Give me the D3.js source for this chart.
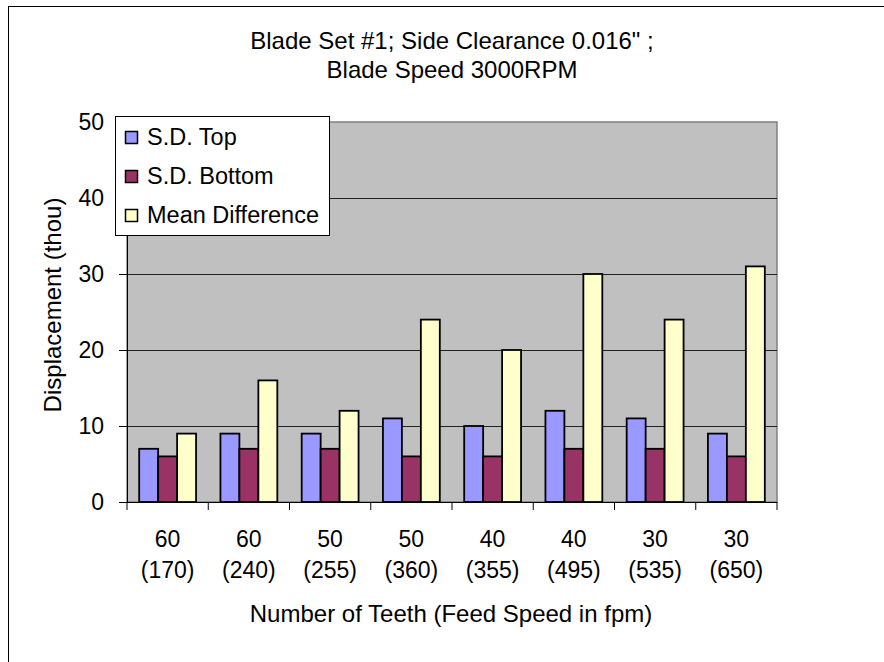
<!DOCTYPE html>
<html><head><meta charset="utf-8">
<script src="https://cdn.jsdelivr.net/npm/d3@7"></script>
<style>body{margin:0;background:#fff}svg{display:block;font-family:"Liberation Sans",Arial,sans-serif}</style>
</head><body>
<script>
const teeth = ["60","60","50","50","40","40","30","30"];
const feed = ["(170)","(240)","(255)","(360)","(355)","(495)","(535)","(650)"];
const seriesNames = ["S.D. Top","S.D. Bottom","Mean Difference"];
const sdTop = [7,9,9,11,10,12,11,9];
const sdBottom = [6,7,7,6,6,7,7,6];
const meanDiff = [9,16,12,24,20,30,24,31];
const yTicks = [0,10,20,30,40,50];
const colors = ["#9999FF","#993366","#FFFFCC"];

const W=884,H=662;
const svg=d3.select("body").append("svg").attr("width",W).attr("height",H);
svg.append("rect").attr("x",8.5).attr("y",6.5).attr("width",W+20).attr("height",H+20)
  .attr("fill","#fff").attr("stroke","#000").attr("stroke-width",1);

const L=127,R=777,T=122,B=502;
const cats=d3.range(teeth.length);
const x=d3.scaleBand().domain(cats).range([L,R]).paddingInner(0.3).paddingOuter(0.15);
const x1=d3.scaleBand().domain([0,1,2]).range([0,x.bandwidth()]);
const y=d3.scaleLinear().domain([0,50]).range([B,T]);

svg.append("rect").attr("x",L).attr("y",T).attr("width",R-L).attr("height",B-T)
  .attr("fill","#C0C0C0").attr("stroke","#808080").attr("stroke-width",1.5);

svg.append("g").selectAll("line").data(yTicks.filter(d=>d>0&&d<50)).join("line")
  .attr("x1",L).attr("x2",R).attr("y1",d=>Math.round(y(d))+0.5).attr("y2",d=>Math.round(y(d))+0.5)
  .attr("stroke","#222").attr("stroke-width",1);

const data=[sdTop,sdBottom,meanDiff];
data.forEach((vals,si)=>{
  svg.append("g").selectAll("rect").data(vals).join("rect")
    .attr("x",(d,i)=>x(i)+x1(si)).attr("width",x1.bandwidth())
    .attr("y",d=>y(d)).attr("height",d=>B-y(d))
    .attr("fill",colors[si]).attr("stroke","#000").attr("stroke-width",1.8);
});

const yAxis=d3.axisLeft(y).tickValues(yTicks).tickSize(8).tickPadding(15);
const gy=svg.append("g").attr("transform",`translate(${L},0)`).call(yAxis);
gy.select(".domain").attr("stroke","#000");
gy.selectAll("text").attr("font-size",23).attr("fill","#000").attr("font-family","Liberation Sans, Arial, sans-serif");

const step=(R-L)/teeth.length;
const gx=svg.append("g");
gx.append("line").attr("x1",L).attr("x2",R).attr("y1",B+0.5).attr("y2",B+0.5).attr("stroke","#000");
gx.selectAll("line.t").data(d3.range(teeth.length+1)).join("line").attr("class","t")
  .attr("x1",d=>L+d*step).attr("x2",d=>L+d*step).attr("y1",B).attr("y2",B+8).attr("stroke","#000");
gx.selectAll("text.a").data(teeth).join("text").attr("class","a")
  .attr("x",(d,i)=>x(i)+x.bandwidth()/2).attr("y",547).attr("text-anchor","middle")
  .attr("font-size",23).text(d=>d);
gx.selectAll("text.b").data(feed).join("text").attr("class","b")
  .attr("x",(d,i)=>x(i)+x.bandwidth()/2).attr("y",578).attr("text-anchor","middle")
  .attr("font-size",23).text(d=>d);

svg.append("text").attr("x",451).attr("y",622).attr("text-anchor","middle").attr("font-size",24)
  .text("Number of Teeth (Feed Speed in fpm)");
svg.append("text").attr("transform","translate(61,305) rotate(-90)").attr("text-anchor","middle")
  .attr("font-size",24).text("Displacement (thou)");

svg.append("text").attr("x",452).attr("y",49).attr("text-anchor","middle").attr("font-size",24)
  .text('Blade Set #1; Side Clearance 0.016" ;');
svg.append("text").attr("x",452).attr("y",78).attr("text-anchor","middle").attr("font-size",24)
  .text("Blade Speed 3000RPM");

const lg=svg.append("g");
lg.append("rect").attr("x",115.5).attr("y",116.5).attr("width",214).attr("height",119)
  .attr("fill","#fff").attr("stroke","#000").attr("stroke-width",1);
seriesNames.forEach((n,i)=>{
  const base=145+i*39;
  lg.append("rect").attr("x",125.5).attr("y",base-13.5).attr("width",12).attr("height",12)
    .attr("fill",colors[i]).attr("stroke","#000").attr("stroke-width",1.5);
  lg.append("text").attr("x",147).attr("y",base).attr("font-size",23.5).text(n);
});
</script>
</body></html>
